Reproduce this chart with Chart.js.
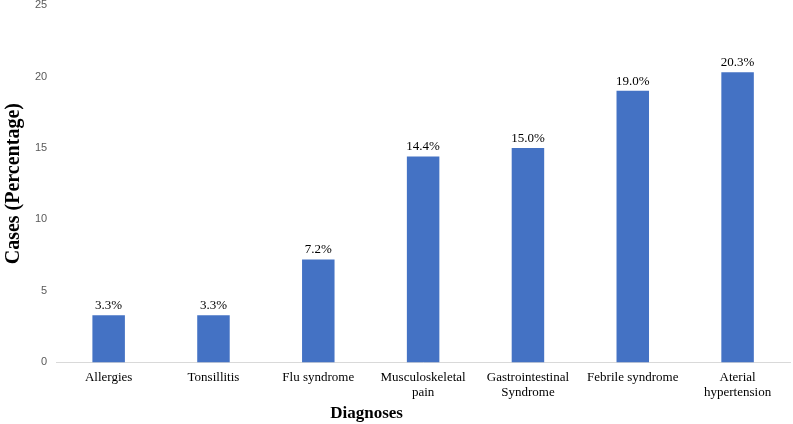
<!DOCTYPE html>
<html>
<head>
<meta charset="utf-8">
<script src="https://cdn.jsdelivr.net/npm/chart.js@4/dist/chart.umd.min.js"></script>
<style>
  html, body { margin: 0; padding: 0; background: #fff; }
  #wrap { width: 793px; height: 424px; }
</style>
</head>
<body>
<div id="wrap"><canvas id="diagChart"></canvas></div>
<script>
// Datos del gráfico
const diagnoses = ['Allergies', 'Tonsillitis', 'Flu syndrome', ['Musculoskeletal', 'pain'],
  ['Gastrointestinal', 'Syndrome'], 'Febrile syndrome', ['Aterial', 'hypertension']];
const casePercent = [3.3, 3.3, 7.2, 14.4, 15.0, 19.0, 20.3];
const yTicks = [0, 5, 10, 15, 20, 25];

const serif = '"Liberation Serif", "Times New Roman", serif';

// Etiquetas encima de cada barra y título del eje X (algo desplazado a la izquierda)
const barLabels = {
  id: 'barLabels',
  afterDatasetsDraw(chart) {
    const ctx = chart.ctx;
    const meta = chart.getDatasetMeta(0);
    ctx.save();
    ctx.font = '13px ' + serif;
    ctx.fillStyle = '#000';
    ctx.textAlign = 'center';
    ctx.textBaseline = 'bottom';
    meta.data.forEach((bar, i) => {
      ctx.fillText(casePercent[i].toFixed(1) + '%', bar.x, bar.y - 3);
    });

    const area = chart.chartArea;
    ctx.font = 'bold 17px ' + serif;
    ctx.textBaseline = 'middle';
    ctx.fillText('Diagnoses', area.left + (area.right - area.left) * 0.423, chart.scales.x.bottom - 10);
    ctx.restore();
  }
};

new Chart(document.getElementById('diagChart'), {
  type: 'bar',
  data: {
    labels: diagnoses,
    datasets: [{
      data: casePercent,
      backgroundColor: '#4472C4',
      barPercentage: 0.31,
      categoryPercentage: 1
    }]
  },
  options: {
    responsive: true,
    maintainAspectRatio: false,
    animation: false,
    layout: { padding: { top: 5, right: 3, bottom: 0, left: 2 } },
    plugins: { legend: { display: false }, tooltip: { enabled: false } },
    scales: {
      x: {
        grid: { display: false, drawTicks: false },
        border: { color: '#d9d9d9', width: 1 },
        ticks: {
          color: '#000',
          font: { family: serif, size: 13 },
          maxRotation: 0,
          autoSkip: false,
          padding: 7
        },
        title: {
          // reserva el espacio; el texto lo dibuja el plugin
          display: true,
          text: 'Diagnoses',
          color: 'rgba(0,0,0,0)',
          font: { family: serif, size: 17, weight: 'bold' },
          padding: { top: -4, bottom: 0 }
        }
      },
      y: {
        min: 0,
        max: 25,
        afterBuildTicks: (axis) => { axis.ticks = yTicks.map(v => ({ value: v })); },
        afterFit: (axis) => { axis.paddingTop = 0; },
        grid: { display: false, drawTicks: false },
        border: { display: false },
        ticks: {
          color: '#595959',
          font: { family: '"Liberation Sans", Arial, sans-serif', size: 11 },
          padding: 9
        },
        title: {
          display: true,
          text: 'Cases (Percentage)',
          color: '#000',
          font: { family: serif, size: 20, weight: 'bold' },
          padding: { top: 0, bottom: 0 }
        }
      }
    }
  },
  plugins: [barLabels]
});
</script>
</body>
</html>
